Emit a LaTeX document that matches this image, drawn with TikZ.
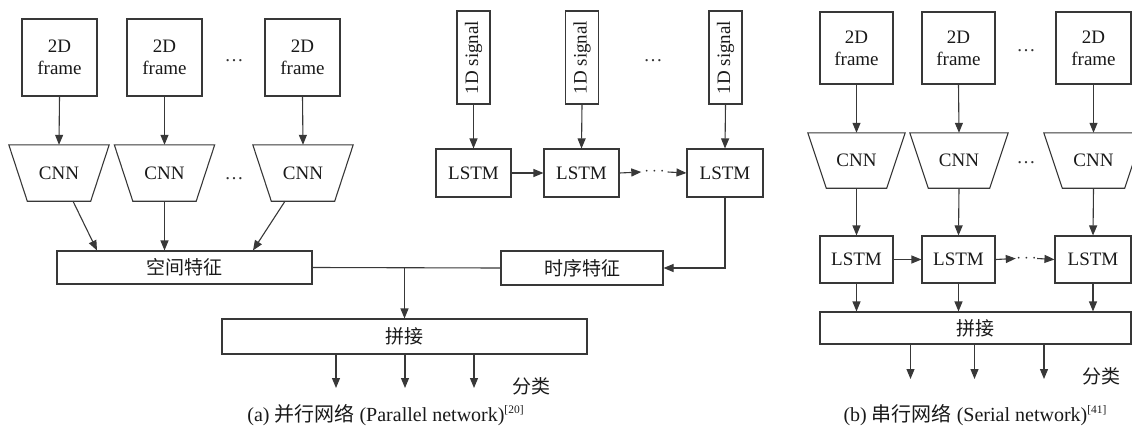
\documentclass[tikz,border=0pt]{standalone}
\usepackage{fontspec}
\setmainfont{Liberation Serif}
\newfontfamily\cjk{Noto Sans CJK SC}
\usetikzlibrary{arrows.meta,calc}
\begin{document}
\begin{tikzpicture}[x=1pt,y=-1pt,
  lc/.style={draw=black!78, line width=1.1pt},
  txt/.style={inner sep=0pt, font=\fontsize{19}{22}\selectfont, text=black!90, align=center},
  box/.style={txt, lc},
  arr/.style={lc, -{Triangle[length=10pt,width=8pt]}},
  ln/.style={lc},
  dotsn/.style={inner sep=0pt, font=\fontsize{19}{22}\selectfont, text=black!80},
  captxt/.style={inner sep=0pt, font=\fontsize{20}{22}\selectfont, text=black!90},
]
\useasboundingbox (0,0) rectangle (1132,428);

% ================= (a) parallel network =================
% 2D frames
\node[box, minimum width=75, minimum height=77] (f1) at (59.5,57.5) {2D\\frame};
\node[box, minimum width=75, minimum height=77] (f2) at (164.5,57.5) {2D\\frame};
\node[box, minimum width=75, minimum height=77] (f3) at (302.5,57.5) {2D\\frame};
\node[dotsn] (fd) at (234,61) {\dots};

% CNN trapezoids
\node[txt, minimum width=100, minimum height=56] (c1) at (59,173) {CNN};
\node[txt, minimum width=100, minimum height=56] (c2) at (164.5,173) {CNN};
\node[txt, minimum width=100, minimum height=56] (c3) at (303,173) {CNN};
\foreach \c in {c1,c2,c3}{
  \draw[ln] (\c.north west) -- (\c.north east) -- ([xshift=-18.5pt]\c.south east)
     -- ([xshift=18.5pt]\c.south west) -- cycle;
}
\node[dotsn] (cd) at (234,179) {\dots};

\draw[arr] (f1.south) -- (c1.north);
\draw[arr] (f2.south) -- (c2.north);
\draw[arr] (f3.south) -- (c3.north);

% 1D signals
\node[box, minimum width=33, minimum height=93] (s1) at (473.5,57.5) {\rotatebox{90}{1D signal}};
\node[box, minimum width=33, minimum height=93] (s2) at (582,57.5) {\rotatebox{90}{1D signal}};
\node[box, minimum width=33, minimum height=93] (s3) at (725.5,57.5) {\rotatebox{90}{1D signal}};
\node[dotsn] (sd) at (653,61) {\dots};

% LSTMs (a)
\node[box, minimum width=75, minimum height=48] (l1) at (473.5,173) {LSTM};
\node[box, minimum width=75, minimum height=48] (l2) at (581.5,173) {LSTM};
\node[box, minimum width=76, minimum height=48] (l3) at (725,173) {LSTM};
\node[dotsn, minimum width=26] (ld) at (654.5,172) {$\cdots$};

\draw[arr] (s1.south) -- (l1.north);
\draw[arr] (s2.south) -- (l2.north);
\draw[arr] (s3.south) -- (l3.north);
\draw[arr] (l1.east) -- (l2.west);
\draw[arr] (l2.east) -- (ld.west);
\draw[arr] (ld.east) -- (l3.west);

% features
\node[box, minimum width=255, minimum height=33] (sp) at (184.5,267.5) {\cjk 空间特征};
\node[box, minimum width=162, minimum height=34] (ts) at (582,268) {\cjk 时序特征};

\draw[arr] ([xshift=14pt]c1.south) -- ([xshift=-87.5pt]sp.north);
\draw[arr] (c2.south) -- (c2.south |- sp.north);
\draw[arr] ([xshift=-18pt]c3.south) -- ([xshift=68.5pt]sp.north);
\draw[arr] (l3.south) |- (ts.east);

% concat (a)
\node[box, minimum width=365, minimum height=35] (pa) at (404.5,336.5) {\cjk 拼接};
\draw[ln] (sp.east) -- (ts.west);
\draw[arr] (sp.east -| pa.north) -- (pa.north);

\coordinate (oa1) at (336,388);
\coordinate (oa2) at (405,388);
\coordinate (oa3) at (474,388);
\draw[arr] (pa.south -| oa1) -- (oa1);
\draw[arr] (pa.south -| oa2) -- (oa2);
\draw[arr] (pa.south -| oa3) -- (oa3);
\node[txt] (fa) at (531,386) {\cjk 分类};

\node[captxt, anchor=base] (capa) at (385.5,421) {(a) {\cjk 并行网络} (Parallel network)\raisebox{7.5pt}{\fontsize{11.5}{11.5}\selectfont[20]}};

% ================= (b) serial network =================
\node[box, minimum width=73, minimum height=72] (rf1) at (856.5,48) {2D\\frame};
\node[box, minimum width=73, minimum height=72] (rf2) at (958.5,48) {2D\\frame};
\node[box, minimum width=75, minimum height=72] (rf3) at (1093.5,48) {2D\\frame};
\node[dotsn] (rfd) at (1026,51) {\dots};

\node[txt, minimum width=97, minimum height=55] (rc1) at (856.5,160.5) {CNN};
\node[txt, minimum width=98, minimum height=55] (rc2) at (959,160.5) {CNN};
\node[txt, minimum width=99, minimum height=55] (rc3) at (1093.5,160.5) {CNN};
\foreach \c in {rc1,rc2,rc3}{
  \draw[ln] (\c.north west) -- (\c.north east) -- ([xshift=-18.5pt]\c.south east)
     -- ([xshift=18.5pt]\c.south west) -- cycle;
}
\node[dotsn] (rcd) at (1026,163) {\dots};

\draw[arr] (rf1.south) -- (rc1.north);
\draw[arr] (rf2.south) -- (rc2.north);
\draw[arr] (rf3.south) -- (rc3.north);

\node[box, minimum width=73, minimum height=47] (rl1) at (856.5,259.5) {LSTM};
\node[box, minimum width=73, minimum height=47] (rl2) at (958.5,259.5) {LSTM};
\node[box, minimum width=76, minimum height=47] (rl3) at (1093,259.5) {LSTM};
\node[dotsn, minimum width=21] (rld) at (1026.5,258.5) {$\cdots$};

\draw[arr] (rc1.south) -- (rl1.north);
\draw[arr] (rc2.south) -- (rl2.north);
\draw[arr] (rc3.south) -- (rl3.north);
\draw[arr] (rl1.east) -- (rl2.west);
\draw[arr] (rl2.east) -- (rld.west);
\draw[arr] (rld.east) -- (rl3.west);

\node[box, minimum width=311, minimum height=32] (pb) at (975.5,328) {\cjk 拼接};
\draw[arr] (rl1.south) -- (rl1.south |- pb.north);
\draw[arr] (rl2.south) -- (rl2.south |- pb.north);
\draw[arr] (rl3.south) -- (rl3.south |- pb.north);

\coordinate (ob1) at (910.5,379);
\coordinate (ob2) at (974.5,379);
\coordinate (ob3) at (1044,379);
\draw[arr] (pb.south -| ob1) -- (ob1);
\draw[arr] (pb.south -| ob2) -- (ob2);
\draw[arr] (pb.south -| ob3) -- (ob3);
\node[txt] (fb) at (1101,376) {\cjk 分类};

\node[captxt, anchor=base] (capb) at (975,421) {(b) {\cjk 串行网络} (Serial network)\raisebox{7.5pt}{\fontsize{11.5}{11.5}\selectfont[41]}};
\end{tikzpicture}
\end{document}
